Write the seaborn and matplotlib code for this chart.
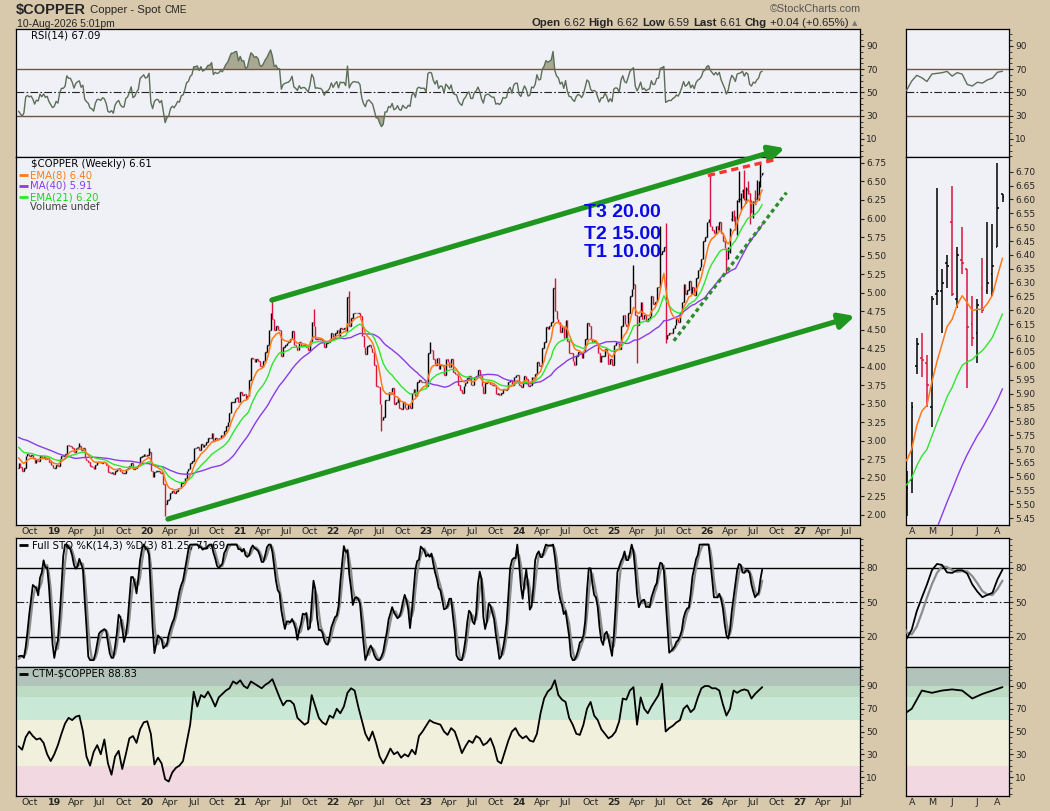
import numpy as np
import pandas as pd
import matplotlib
matplotlib.use("Agg")
import matplotlib.pyplot as plt
import matplotlib.dates as mdates
from matplotlib.ticker import MultipleLocator
import seaborn as sns

# ---------------- data (weekly closes, weeks dated on Monday) ----------------
warmup_close = [3.05, 3.10, 3.18, 3.13, 3.10, 3.10, 3.08, 3.12, 3.07, 2.96, 2.98, 3.15, 3.25,
                3.27, 3.22, 3.20, 3.20, 3.19, 3.13, 3.20, 3.15, 3.13, 3.12, 3.12, 3.00, 3.03,
                3.04, 3.11, 3.12, 3.08, 3.07, 3.08, 3.11, 3.08, 3.08, 3.25, 3.28, 3.15, 3.00,
                2.91, 2.80, 2.75, 2.75, 2.75, 2.70, 2.64]
close_2018 = [2.70, 2.65, 2.60, 2.63, 2.80, 2.82, 2.80, 2.81, 2.77, 2.70, 2.74, 2.73, 2.80,
              2.77, 2.80, 2.76, 2.77, 2.71, 2.67, 2.63]
close_2019 = [2.64, 2.68, 2.66, 2.75, 2.80, 2.80, 2.82, 2.95, 2.93, 2.93, 2.90, 2.85, 2.90,
              2.92, 2.93, 2.88, 2.90, 2.77, 2.74, 2.72, 2.66, 2.65, 2.62, 2.68, 2.71, 2.71,
              2.70, 2.72, 2.71, 2.67, 2.58, 2.57, 2.58, 2.55, 2.60, 2.62, 2.63, 2.59, 2.57,
              2.57, 2.62, 2.63, 2.66, 2.70, 2.62, 2.63, 2.66, 2.68, 2.78, 2.80, 2.82, 2.80]
close_2020 = [2.81, 2.85, 2.60, 2.51, 2.58, 2.60, 2.60, 2.56, 2.58, 2.42, 2.15, 2.20, 2.22,
              2.30, 2.33, 2.30, 2.33, 2.37, 2.36, 2.43, 2.44, 2.50, 2.60, 2.62, 2.70, 2.73,
              2.90, 2.90, 2.92, 2.88, 2.96, 2.92, 2.94, 2.98, 3.04, 3.04, 3.10, 3.00, 3.04,
              3.03, 3.04, 3.08, 3.07, 3.13, 3.20, 3.25, 3.37, 3.52, 3.52, 3.58, 3.59, 3.52]
close_2021 = [3.66, 3.62, 3.63, 3.56, 3.60, 3.82, 4.12, 4.10, 4.07, 4.10, 4.08, 4.01, 4.00,
              4.08, 4.20, 4.30, 4.49, 4.72, 4.64, 4.50, 4.55, 4.50, 4.50, 4.15, 4.27, 4.30,
              4.32, 4.33, 4.38, 4.48, 4.30, 4.27, 4.23, 4.33, 4.28, 4.30, 4.30, 4.27, 4.23,
              4.35, 4.60, 4.55, 4.37, 4.38, 4.37, 4.37, 4.34, 4.26, 4.32, 4.33, 4.37, 4.46]
close_2022 = [4.40, 4.46, 4.50, 4.42, 4.52, 4.51, 4.52, 4.48, 4.94, 4.55, 4.66, 4.72, 4.73,
              4.72, 4.72, 4.68, 4.41, 4.26, 4.17, 4.28, 4.30, 4.25, 4.20, 4.02, 3.74, 3.73,
              3.50, 3.28, 3.32, 3.55, 3.55, 3.66, 3.63, 3.71, 3.50, 3.52, 3.58, 3.45, 3.43,
              3.52, 3.45, 3.43, 3.48, 3.45, 3.65, 3.70, 3.60, 3.79, 3.82, 3.80, 3.80, 3.80]
close_2023 = [3.74, 4.19, 4.23, 4.22, 4.10, 4.03, 4.12, 3.97, 4.03, 4.02, 3.89, 4.10, 4.06,
              4.00, 4.10, 3.93, 3.90, 3.89, 3.75, 3.68, 3.64, 3.74, 3.78, 3.85, 3.88, 3.75,
              3.75, 3.85, 3.88, 3.95, 3.88, 3.74, 3.65, 3.78, 3.80, 3.80, 3.77, 3.75, 3.75,
              3.63, 3.64, 3.62, 3.64, 3.70, 3.69, 3.70, 3.79, 3.82, 3.75, 3.86, 3.89, 3.89]
close_2024 = [3.76, 3.73, 3.80, 3.87, 3.83, 3.74, 3.75, 3.86, 3.85, 3.90, 4.07, 4.01, 4.02,
              4.25, 4.33, 4.53, 4.51, 4.55, 4.60, 5.06, 4.75, 4.64, 4.60, 4.47, 4.53, 4.39,
              4.63, 4.35, 4.19, 4.18, 4.08, 4.03, 4.15, 4.20, 4.18, 4.12, 4.20, 4.38, 4.59,
              4.55, 4.38, 4.33, 4.35, 4.32, 4.19, 4.06, 4.15, 4.15, 4.24, 4.18, 4.04, 4.10, 4.03]
close_2025 = [4.30, 4.33, 4.32, 4.24, 4.55, 4.70, 4.58, 4.55, 4.72, 4.95, 5.05, 5.12, 4.70,
              4.56, 4.68, 4.87, 4.65, 4.70, 4.62, 4.66, 4.68, 4.95, 4.85, 4.87, 5.07, 5.08,
              5.52, 5.56, 5.62, 4.38, 4.43, 4.46, 4.45, 4.52, 4.56, 4.64, 4.60, 4.72, 4.88,
              5.12, 4.98, 5.03, 5.16, 4.98, 5.08, 4.97, 5.20, 5.30, 5.35, 5.45, 5.70, 5.75]
close_2026_q1 = [5.95, 6.00, 5.90, 5.85, 5.80, 5.90, 5.85, 5.95, 5.80, 5.70, 5.60, 5.45]

# last 20 weeks (30-Mar-2026 .. 10-Aug-2026), full OHLC
recent_open = [5.47, 5.59, 6.00, 6.03, 6.01, 5.85, 6.26, 6.27, 6.37, 6.52,
               6.24, 6.38, 6.35, 6.15, 6.12, 6.28, 6.27, 6.33, 6.43, 6.62]
recent_high = [5.62, 5.87, 6.10, 6.12, 6.04, 6.25, 6.64, 6.35, 6.40, 6.65,
               6.43, 6.50, 6.35, 6.25, 6.24, 6.39, 6.52, 6.51, 6.73, 6.62]
recent_low = [5.46, 5.54, 5.97, 5.96, 5.85, 5.78, 6.22, 6.12, 6.28, 6.25,
              6.21, 6.33, 5.92, 6.07, 6.01, 6.19, 6.26, 6.25, 6.43, 6.59]
recent_close = [5.56, 5.85, 6.08, 6.02, 5.93, 6.24, 6.27, 6.30, 6.36, 6.26,
                6.40, 6.37, 6.14, 6.10, 6.22, 6.20, 6.30, 6.36, 6.57, 6.61]

# notable intraweek extremes
wick_high = [("2019-04-15", 2.97), ("2020-01-13", 2.90), ("2021-05-10", 4.89),
             ("2021-10-18", 4.78), ("2022-03-07", 5.02), ("2023-01-16", 4.33),
             ("2024-05-20", 5.20), ("2025-03-24", 5.37), ("2025-07-07", 5.90),
             ("2025-07-28", 5.94), ("2026-01-19", 6.59)]
wick_low = [("2020-03-16", 1.99), ("2022-07-11", 3.13), ("2025-04-07", 4.05),
            ("2025-07-28", 4.32), ("2026-03-23", 5.27)]

# CTM, every second week from 20-Aug-2018
ctm_2018 = [37, 34, 45, 50, 46, 43, 44, 40, 30, 24]
ctm_2019 = [30, 38, 48, 57, 62, 60, 63, 64, 50, 28, 20, 32, 38, 30, 43, 22, 12, 28, 33, 17,
            30, 44, 46, 40, 52, 58]
ctm_2020 = [59, 48, 21, 27, 22, 8, 6, 14, 18, 20, 24, 40, 56, 85, 72, 82, 80, 85, 79, 72,
            80, 83, 86, 88, 94, 92]
ctm_2021 = [95, 90, 88, 94, 92, 90, 88, 91, 93, 96, 88, 80, 73, 77, 77, 74, 62, 59, 56, 58,
            82, 72, 62, 58, 56, 64]
ctm_2022 = [62, 70, 66, 72, 84, 88, 86, 72, 60, 48, 42, 50, 40, 28, 22, 28, 35, 30, 32, 27,
            30, 28, 34, 30, 46, 50]
ctm_2023 = [55, 60, 58, 57, 56, 50, 47, 53, 50, 41, 31, 37, 42, 40, 46, 44, 38, 40, 44, 36,
            24, 22, 32, 42, 50, 53]
ctm_2024 = [47, 44, 46, 42, 41, 48, 66, 79, 85, 88, 95, 82, 78, 76, 62, 56, 48, 47, 56, 70,
            76, 64, 60, 52, 48, 44, 46]
ctm_2025 = [50, 59, 79, 78, 86, 89, 56, 80, 70, 66, 72, 77, 82, 92, 50, 53, 55, 58, 60, 70,
            73, 67, 70, 80, 88, 90]
ctm_2026 = [90, 88, 88, 86, 74, 64, 70, 86, 84, 86, 87, 86, 79, 83, 86, 89]

# analyst drawings (date, price)
upper_channel = [("2021-05-08", 4.90), ("2026-11-07", 6.95)]
lower_channel = [("2020-03-27", 1.945), ("2027-08-08", 4.685)]
red_resistance = [("2026-01-09", 6.58), ("2026-09-25", 6.79)]
green_support = [("2025-08-29", 4.35), ("2026-11-13", 6.35)]
targets = ["T3 20.00", "T2 15.00", "T1 10.00"]
target_y = [6.075, 5.79, 5.54]

# ---------------- build series ----------------
closes = (warmup_close + close_2018 + close_2019 + close_2020 + close_2021 + close_2022
          + close_2023 + close_2024 + close_2025 + close_2026_q1 + recent_close)
df = pd.DataFrame({"date": pd.date_range("2017-10-02", periods=len(closes), freq="7D"),
                   "close": closes})
if df["date"].iloc[-1] != pd.Timestamp("2026-08-10"):
    print("last date mismatch", df["date"].iloc[-1])
df["open"] = df["close"].shift(1)
n_rec = len(recent_close)
df.loc[df.index[-n_rec:], "open"] = recent_open
df["high"] = df[["open", "close"]].max(axis=1)
df["low"] = df[["open", "close"]].min(axis=1)
df.loc[df.index[-n_rec:], "high"] = recent_high
df.loc[df.index[-n_rec:], "low"] = recent_low
for d, v in wick_high:
    df.loc[df["date"] == pd.Timestamp(d), "high"] = v
for d, v in wick_low:
    df.loc[df["date"] == pd.Timestamp(d), "low"] = v
df["x"] = mdates.date2num(df["date"])
df["up"] = df["close"] >= df["close"].shift(1)

df["ema8"] = df["close"].ewm(span=8, adjust=False).mean()
df["ema21"] = df["close"].ewm(span=21, adjust=False).mean()
df["ma40"] = df["close"].rolling(40, min_periods=1).mean()
delta = df["close"].diff()
gain = delta.clip(lower=0).ewm(alpha=1 / 14, adjust=False).mean()
loss = (-delta.clip(upper=0)).ewm(alpha=1 / 14, adjust=False).mean()
df["rsi"] = 100 - 100 / (1 + gain / loss)
ll = df["low"].rolling(14, min_periods=1).min()
hh = df["high"].rolling(14, min_periods=1).max()
df["k"] = (100 * (df["close"] - ll) / (hh - ll)).rolling(3, min_periods=1).mean()
df["d"] = df["k"].rolling(3, min_periods=1).mean()

vis = df[df["date"] >= "2018-08-20"].reset_index(drop=True)

ctm = ctm_2018 + ctm_2019 + ctm_2020 + ctm_2021 + ctm_2022 + ctm_2023 + ctm_2024 + ctm_2025 + ctm_2026
ctm_df = pd.DataFrame({"date": pd.date_range("2018-08-20", periods=len(ctm), freq="14D"), "ctm": ctm})
ctm_df["x"] = mdates.date2num(ctm_df["date"])

# ---------------- figure ----------------
sns.set_style("white")
plt.rcParams["font.family"] = ["DejaVu Sans"]

BG = "#D8C8AC"
PANEL = "#F0F1F6"
RED = "#D9143A"
C_EMA8 = "#FF7A1A"
C_MA40 = "#8A3CE6"
C_EMA21 = "#2EE62E"
W, H = 1050, 811

fig = plt.figure(figsize=(10.5, 8.11), dpi=100, facecolor=BG)


def add_ax(x0, y0, x1, y1):
    ax = fig.add_axes([x0 / W, 1 - y1 / H, (x1 - x0) / W, (y1 - y0) / H])
    ax.set_facecolor(PANEL)
    for s in ax.spines.values():
        s.set_color("black")
        s.set_linewidth(0.9)
    ax.yaxis.tick_right()
    ax.tick_params(axis="y", which="major", length=3, direction="out", labelsize=6.5, pad=1.5)
    ax.tick_params(axis="y", which="minor", length=2, direction="out")
    ax.tick_params(axis="x", length=0, labelsize=6.8, pad=1.5)
    return ax


LX0, LX1, RX0, RX1 = 16, 860, 906, 1009
rows = {"rsi": (29, 157), "price": (157, 525), "sto": (538, 667), "ctm": (667, 796)}
left = {k: add_ax(LX0, a, LX1, b) for k, (a, b) in rows.items()}
right = {k: add_ax(RX0, a, RX1, b) for k, (a, b) in rows.items()}

xl_left = mdates.date2num([pd.Timestamp("2018-08-10"), pd.Timestamp("2027-08-28")])
xl_right = mdates.date2num([pd.Timestamp("2026-03-29"), pd.Timestamp("2026-08-19")])


def line(ax, x, y, color, lw, zorder=3):
    sns.lineplot(x=np.asarray(x), y=np.asarray(y), ax=ax, color=color, linewidth=lw,
                 estimator=None, sort=False, legend=False, zorder=zorder)


for side, axs, xl, tick_days, bar_lw in (("L", left, xl_left, 2.5, 1.0),
                                          ("R", right, xl_right, 2.4, 1.1)):
    # RSI
    ax = axs["rsi"]
    ax.fill_between(vis["x"], 70, vis["rsi"], where=vis["rsi"] > 70, interpolate=True,
                    color="#A9A893", lw=0)
    ax.fill_between(vis["x"], 30, vis["rsi"], where=vis["rsi"] < 30, interpolate=True,
                    color="#A9A893", lw=0)
    for lv in (70, 30):
        ax.axhline(lv, color="#6E5646", lw=1.0)
    ax.axhline(50, color="#222222", lw=0.8, dashes=(7, 2, 1.5, 2))
    line(ax, vis["x"], vis["rsi"], "#5C6E58", 1.0)
    ax.set_ylim(-5.5, 104.6)
    ax.set_yticks([10, 30, 50, 70, 90])
    ax.yaxis.set_minor_locator(MultipleLocator(5))

    # price
    ax = axs["price"]
    cols = np.where(vis["up"], "black", RED)
    ax.vlines(vis["x"], vis["low"], vis["high"], colors=cols, lw=bar_lw, zorder=2)
    ax.hlines(vis["open"], vis["x"] - tick_days, vis["x"], colors=cols, lw=bar_lw, zorder=2)
    ax.hlines(vis["close"], vis["x"], vis["x"] + tick_days, colors=cols, lw=bar_lw, zorder=2)
    line(ax, vis["x"], vis["ma40"], C_MA40, 1.0)
    line(ax, vis["x"], vis["ema21"], C_EMA21, 1.0)
    line(ax, vis["x"], vis["ema8"], C_EMA8, 1.1)

    # full stochastics
    ax = axs["sto"]
    for lv in (80, 20):
        ax.axhline(lv, color="black", lw=1.0)
    ax.axhline(50, color="#222222", lw=0.8, dashes=(7, 2, 1.5, 2))
    line(ax, vis["x"], vis["d"], "#8C8C8C", 1.6)
    line(ax, vis["x"], vis["k"], "black", 1.3)
    ax.set_ylim(-6, 105.7)
    ax.set_yticks([20, 50, 80])
    ax.yaxis.set_minor_locator(MultipleLocator(5))

    # CTM
    ax = axs["ctm"]
    bands = [(-10, 20, "#F1D8E1"), (20, 60, "#F0F0DC"), (60, 80, "#C9E9D6"),
             (80, 90, "#BEDBC4"), (90, 120, "#B1C3BB")]
    for lo, hi, c in bands:
        ax.axhspan(lo, hi, color=c, lw=0, zorder=0)
    line(ax, ctm_df["x"], ctm_df["ctm"], "black", 1.3)
    ax.set_ylim(-6.7, 106.7)
    ax.set_yticks([10, 30, 50, 70, 90])
    ax.yaxis.set_minor_locator(MultipleLocator(5))

    for ax in axs.values():
        ax.set_xlim(*xl)
        ax.set_xlabel("")
        ax.set_ylabel("")

# price scales
left["price"].set_ylim(1.865, 6.83)
left["price"].set_yticks(np.arange(2.0, 6.76, 0.25))
left["price"].yaxis.set_major_formatter(plt.FormatStrFormatter("%.2f"))
right["price"].set_ylim(5.426, 6.753)
right["price"].set_yticks(np.arange(5.45, 6.71, 0.05))
right["price"].yaxis.set_major_formatter(plt.FormatStrFormatter("%.2f"))


def first_monday(ts):
    return ts + pd.Timedelta(days=(7 - ts.weekday()) % 7)


months = pd.date_range("2018-10-01", "2027-07-01", freq="3MS")
lpos = mdates.date2num([first_monday(m) for m in months])
llab = [f"{m.year % 100:02d}" if m.month == 1 else m.strftime("%b") for m in months]
rmonths = pd.date_range("2026-04-01", "2026-08-01", freq="MS")
rpos = mdates.date2num([first_monday(m) for m in rmonths])
rlab = [m.strftime("%b")[0] for m in rmonths]

for axs, pos, lab in ((left, lpos, llab), (right, rpos, rlab)):
    for key, ax in axs.items():
        ax.set_xticks(pos)
        if key in ("price", "ctm"):
            ax.set_xticklabels(lab)
            for t in ax.get_xticklabels():
                if t.get_text().isdigit():
                    t.set_fontweight("bold")
        else:
            ax.set_xticklabels([])

# ---------------- drawings on the price panel ----------------
axp = left["price"]


def dnum(s):
    return mdates.date2num(pd.Timestamp(s))


for seg in (upper_channel, lower_channel):
    (d0, p0), (d1, p1) = seg
    axp.annotate("", xy=(dnum(d1), p1), xytext=(dnum(d0), p0), annotation_clip=False,
                 arrowprops=dict(arrowstyle="-|>,head_length=0.9,head_width=0.45",
                                 color="#1F961F", lw=3.8, shrinkA=0, shrinkB=0),
                 zorder=6)
(d0, p0), (d1, p1) = red_resistance
axp.plot([dnum(d0), dnum(d1)], [p0, p1], color="#FF3333", lw=2.4, dashes=(2.2, 1.4),
         zorder=6, clip_on=False)
(d0, p0), (d1, p1) = green_support
axp.plot([dnum(d0), dnum(d1)], [p0, p1], color="#2E8B2E", lw=2.4, dashes=(1.2, 1.0),
         zorder=6, clip_on=False)
for txt, yv in zip(targets, target_y):
    axp.text(dnum("2025-07-10"), yv, txt, ha="right", va="center", color="#0A0AE8",
             fontsize=14, fontweight="bold", family=["Liberation Sans", "DejaVu Sans"], zorder=7)

# ---------------- panel labels ----------------
def px_to_axes(ax_key, x, y):
    a, b = rows[ax_key]
    return (x - LX0) / (LX1 - LX0), 1 - (y - a) / (b - a)


def panel_text(key, x, y, s, color="black", swatch=None):
    ax = left[key]
    tx, ty = px_to_axes(key, x, y)
    ax.text(tx, ty, s, transform=ax.transAxes, fontsize=7.3, color=color, va="center",
            ha="left", zorder=8)
    if swatch:
        sx0, _ = px_to_axes(key, 19, y)
        sx1, _ = px_to_axes(key, 28, y)
        ax.plot([sx0, sx1], [ty, ty], transform=ax.transAxes, color=swatch, lw=2,
                solid_capstyle="butt", zorder=8)


panel_text("rsi", 31, 35, "RSI(14) 67.09")
panel_text("price", 31, 164, "$COPPER (Weekly) 6.61")
panel_text("price", 30, 175, "EMA(8) 6.40", C_EMA8, C_EMA8)
panel_text("price", 30, 186, "MA(40) 5.91", C_MA40, C_MA40)
panel_text("price", 30, 197, "EMA(21) 6.20", "#1FD21F", C_EMA21)
panel_text("price", 30, 207, "Volume undef", "#404040")
panel_text("sto", 32, 545, "Full STO %K(14,3) %D(3) 81.25, 71.69", swatch="black")
panel_text("ctm", 32, 674, "CTM-$COPPER 88.83", swatch="black")

# ---------------- header ----------------
LS = ["Liberation Sans", "DejaVu Sans"]
renderer = fig.canvas.get_renderer()


def chain(x, y, pieces, gap):
    """Place text pieces one after the other, starting at pixel x."""
    for s, kw in pieces:
        t = fig.text(x / W, 1 - y / H, s, va="center", ha="left", family=LS, **kw)
        x += t.get_window_extent(renderer).width + gap
    return x


chain(16, 10, [("$COPPER", dict(fontsize=10.5, fontweight="bold")),
               ("Copper - Spot", dict(fontsize=8.2)),
               ("CME", dict(fontsize=7.2))], 4)
chain(17, 24, [("10-Aug-2026 5:01pm", dict(fontsize=7.5))], 0)
chain(770, 9, [("\u00a9StockCharts.com", dict(fontsize=7.8, color="#555555"))], 0)
header = [("Open", True), ("6.62", False), ("High", True), ("6.62", False),
          ("Low", True), ("6.59", False), ("Last", True), ("6.61", False),
          ("Chg", True), ("+0.04 (+0.65%)", False)]
pieces = []
for s, bold in header:
    pieces.append((s, dict(fontsize=8.2, fontweight="bold" if bold else "normal")))
end = chain(531, 23, pieces, 3.0)
fig.text((end + 1) / W, 1 - 23 / H, "\u25b2", va="center", ha="left", fontsize=5, color="#7A7A7A")

fig.savefig("out.png", dpi=100, facecolor=BG)
